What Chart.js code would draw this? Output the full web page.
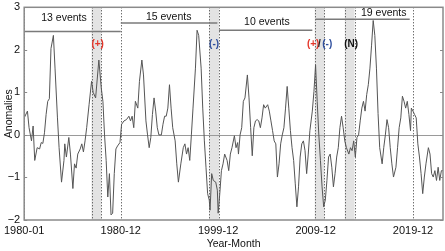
<!DOCTYPE html>
<html><head><meta charset="utf-8">
<script src="https://cdn.jsdelivr.net/npm/chart.js@4/dist/chart.umd.min.js"></script>
<style>html,body{margin:0;padding:0;background:#fff}canvas{display:block}</style>
</head><body>
<canvas id="c" width="445" height="251"></canvas>
<script>
// month index (0 = 1980-01) and anomaly values
const months = [0,4,6,9,11,13,16,19,21,23,25,27,29,31,33,36,38,41,43,46,49,50,52,55,57,60,62,64,66,69,71,73,75,77,80,83,85,88,92,95,97,99,101,103,105,107,109,111,113,115,118,120,123,126,129,131,133,135,137,140,142,145,147,150,152,154,156,158,160,162,164,166,169,171,173,175,177,179,181,183,186,188,190,193,196,198,200,202,204,206,208,211,213,215,218,220,222,224,226,228,229,231,233,236,238,239,241,243,245,247,250,252,254,256,259,261,263,264,266,268,270,272,275,277,279,281,283,285,287,289,291,293,295,297,300,302,304,306,308,310,312,314,316,318,320,322,324,326,328,330,332,334,336,338,340,342,344,346,348,350,352,355,357,359,361,363,365,367,369,371,373,375,377,379,381,383,385,387,389,391,393,395,397,400,402,404,406,408,410,412,414,416,418,420,422,424,426,428,430,432,434,436,438,441,443,445,447,449,451,453,455,458,460,462,464,466,468,470,472,474,476,477,479,481,483,485,487,489,491,493,495,498,500,502,504,506,508,510,512,514,516];
const values = [0.40,0.56,0.17,-0.14,0.21,-0.60,-0.30,-0.33,-0.18,-0.20,0.05,0.48,0.79,0.85,2.03,2.34,1.57,0.40,-0.30,-1.11,-0.60,-0.21,-0.52,-0.06,-0.45,-1.26,-0.68,-0.78,-0.45,-0.33,-0.21,-0.40,-0.14,0.17,0.72,1.26,1.00,0.87,1.76,1.10,0.79,0.00,-0.60,-1.46,-0.91,-1.88,-1.84,-0.91,-0.33,-0.26,-0.18,0.25,0.33,0.36,0.44,0.33,0.44,0.17,0.79,0.63,1.26,1.76,1.41,0.33,0.00,-0.30,-0.06,0.48,0.87,0.56,0.17,0.00,0.00,0.25,0.44,0.44,0.63,1.18,0.63,0.17,-0.14,-0.68,-1.11,-0.68,-0.30,-0.21,-0.45,-0.30,-0.60,0.00,0.63,1.57,2.46,2.34,1.57,0.63,-0.14,-0.76,-1.38,-1.53,-1.77,-0.91,-1.07,-1.11,-1.30,-1.84,-1.38,-0.84,-0.68,-0.45,-0.60,-0.84,-0.45,-0.30,-0.02,-0.30,-0.18,-0.45,0.00,0.17,0.79,0.87,1.41,0.87,0.17,-0.49,0.17,0.33,0.36,0.33,0.17,0.40,0.71,0.63,0.71,0.56,0.33,0.10,-0.14,-0.21,-0.99,-0.68,-0.21,0.00,0.17,0.63,1.14,0.63,0.10,-0.30,-0.60,-1.15,-1.69,-1.22,-0.52,-0.21,-0.14,-0.37,-0.91,-0.45,0.10,0.56,1.02,1.64,0.79,0.00,-0.60,-1.22,-1.69,-1.53,-1.07,-0.52,-0.45,-0.76,-1.22,-0.91,-0.52,-0.30,0.17,0.44,0.17,-0.14,-0.30,-0.45,-0.30,-0.37,-0.14,-0.52,-0.06,0.00,0.33,0.63,0.79,0.56,0.95,1.18,1.57,2.11,2.69,2.34,1.57,0.50,-0.30,-0.68,-0.30,0.00,0.36,0.17,-0.30,-0.68,-0.99,-0.76,-0.30,0.17,0.40,0.91,0.79,0.63,0.79,0.48,0.10,0.63,0.56,0.48,0.40,-0.21,-0.52,-0.91,-1.38,-0.99,-0.68,-0.30,-0.45,-0.91,-0.99,-0.84,-1.07,-0.76,-1.07,-0.84,-0.84];
const tickMonths = [0,119,239,359,479];
const tickLabels = ['1980-01','1980-12','1999-12','2009-12','2019-12'];
const yTicks = [-2,-1,0,1,2,3];
const shadeStart = [83,228,358,395];
const shadeEnd = [95,240,370,407];
const dividerMonths = [0,119,479];
const eventStart = [0,119,240,359];
const eventEnd = [119,238,355,475];
const eventLevel = [2.43,2.63,2.46,2.72];
const eventLabels = ['13 events','15 events','10 events','19 events'];
const eventLabelMonth = [49,178,299,443];
const eventLabelLevel = [2.74,2.77,2.65,2.86];
const signTexts = ['(+)','(-)','(+)','/','(-)','(N)'];
const signMonth = [90.5,234,356,363.6,373.4,402.8];
const signColors = ['#e53529','#2f4f9e','#e53529','#222222','#2f4f9e','#111111'];
const signLevel = 2.12;

const FONT = '"Liberation Sans", Arial, sans-serif';
const frameColor = '#8a8a8a';

const deco = {
  id: 'deco',
  beforeDatasetsDraw(chart) {
    const {ctx, chartArea: a, scales: {x, y}} = chart;
    ctx.save();
    ctx.fillStyle = '#e3e3e3';
    shadeStart.forEach((s, i) => {
      const x0 = x.getPixelForValue(s), x1 = x.getPixelForValue(shadeEnd[i]);
      ctx.fillRect(x0, a.top, x1 - x0, a.bottom - a.top);
    });
    ctx.strokeStyle = '#9a9a9a'; ctx.lineWidth = 1;
    const y0 = Math.round(y.getPixelForValue(0)) + 0.5;
    ctx.beginPath(); ctx.moveTo(a.left, y0); ctx.lineTo(a.right, y0); ctx.stroke();
    ctx.strokeStyle = '#333'; ctx.setLineDash([1, 2]); ctx.lineWidth = 1;
    const dl = dividerMonths.concat(shadeStart, shadeEnd);
    dl.forEach(m => {
      const px = Math.round(x.getPixelForValue(m)) + 0.5;
      ctx.beginPath(); ctx.moveTo(px, a.top); ctx.lineTo(px, a.bottom); ctx.stroke();
    });
    ctx.setLineDash([]);
    ctx.restore();
  },
  afterDatasetsDraw(chart) {
    const {ctx, chartArea: a, scales: {x, y}} = chart;
    ctx.save();
    ctx.strokeStyle = '#7a7a7a'; ctx.lineWidth = 1.5;
    eventStart.forEach((s, i) => {
      const py = y.getPixelForValue(eventLevel[i]);
      ctx.beginPath(); ctx.moveTo(x.getPixelForValue(s), py); ctx.lineTo(x.getPixelForValue(eventEnd[i]), py); ctx.stroke();
    });
    ctx.fillStyle = '#111'; ctx.font = '10.5px ' + FONT; ctx.textAlign = 'center'; ctx.textBaseline = 'middle';
    eventLabels.forEach((t, i) => ctx.fillText(t, x.getPixelForValue(eventLabelMonth[i]), y.getPixelForValue(eventLabelLevel[i])));
    ctx.font = 'bold 10px ' + FONT;
    signTexts.forEach((t, i) => {
      ctx.fillStyle = signColors[i];
      ctx.fillText(t, x.getPixelForValue(signMonth[i]), y.getPixelForValue(signLevel));
    });
    ctx.strokeStyle = frameColor; ctx.lineWidth = 1.5;
    ctx.strokeRect(a.left, a.top, a.right - a.left, a.bottom - a.top);
    ctx.lineWidth = 1;
    yTicks.forEach(v => {
      const py = Math.round(y.getPixelForValue(v)) + 0.5;
      ctx.beginPath();
      ctx.moveTo(a.left, py); ctx.lineTo(a.left + 3, py);
      ctx.moveTo(a.right, py); ctx.lineTo(a.right - 3, py);
      ctx.stroke();
    });
    ctx.restore();
  }
};

new Chart(document.getElementById('c'), {
  type: 'line',
  data: {
    datasets: [{
      data: months.map((m, i) => ({x: m, y: values[i]})),
      borderColor: '#555555', borderWidth: 1, pointRadius: 0, tension: 0, fill: false
    }]
  },
  options: {
    responsive: false, animation: false, devicePixelRatio: 1,
    layout: {padding: {top: 4, right: 2, left: 0, bottom: 0}},
    plugins: {legend: {display: false}, tooltip: {enabled: false}},
    scales: {
      x: {
        type: 'linear', min: 0, max: 516,
        afterBuildTicks: s => { s.ticks = tickMonths.map(v => ({value: v})); },
        afterFit: s => { s.height = 31; },
        grid: {display: false, drawTicks: false},
        border: {display: false},
        ticks: {autoSkip: false, maxRotation: 0, padding: 4, color: '#111', font: {family: FONT, size: 11},
          callback: v => tickLabels[tickMonths.indexOf(v)]},
        title: {display: true, text: 'Year-Month', color: '#111', font: {family: FONT, size: 10.5}, padding: {top: 2, bottom: 1}}
      },
      y: {
        min: -2, max: 3,
        afterBuildTicks: s => { s.ticks = yTicks.map(v => ({value: v})); },
        afterFit: s => { s.width = 21; },
        grid: {display: false, drawTicks: false},
        border: {display: false},
        ticks: {padding: 4, color: '#111', font: {family: FONT, size: 11, lineHeight: 0.6},
          callback: v => (v < 0 ? '\u2212' + Math.abs(v) : String(v))},
        title: {display: true, text: 'Anomalies', color: '#111', font: {family: FONT, size: 10.5}, padding: {top: 0, bottom: 0}}
      }
    }
  },
  plugins: [deco]
});
</script>
</body></html>
